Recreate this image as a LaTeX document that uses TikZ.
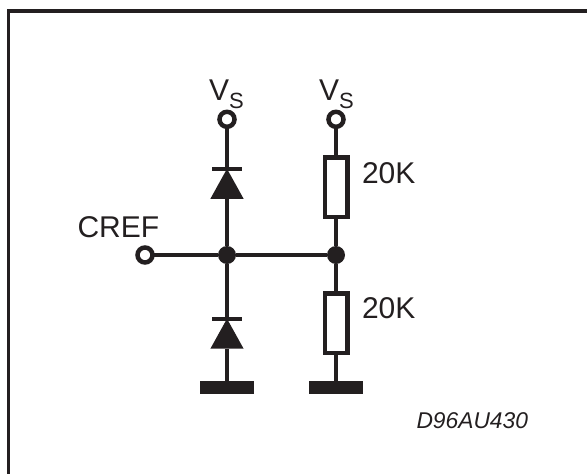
\documentclass[tikz,border=0pt]{standalone}
\usepackage{fontspec}
\setmainfont{Liberation Sans}
\usetikzlibrary{positioning,shapes.geometric}
\definecolor{ink}{HTML}{231F20}

\begin{document}
\begin{tikzpicture}[x=1pt,y=-1pt,on grid,color=ink,line width=4.5pt,outer sep=0pt]

  \useasboundingbox (0,0) rectangle (587,474);

  \tikzstyle{terminal} = [circle,draw,fill=white,inner sep=0pt,minimum size=15pt]
  \tikzstyle{junction} = [circle,fill,inner sep=0pt,minimum size=18pt]
  \tikzstyle{resistor} = [rectangle,draw,fill=white,inner sep=0pt,minimum width=22.5pt,minimum height=59.5pt]
  \tikzstyle{diodebar} = [rectangle,fill,inner sep=0pt,minimum width=30pt,minimum height=4pt]
  \tikzstyle{diodetri} = [isosceles triangle,isosceles triangle apex angle=58,shape border rotate=90,
                          fill,inner sep=0pt,minimum height=30pt]
  \tikzstyle{groundbar} = [rectangle,fill,inner sep=0pt,minimum width=54pt,minimum height=13.5pt]
  \tikzstyle{bigtext} = [anchor=base west,inner sep=0pt,font=\fontsize{30}{30}\selectfont]
  \tikzstyle{smalltext} = [font=\fontsize{22.8}{22.8}\selectfont]

  \coordinate (frameBL) at (8.5,474);
  \coordinate (frameTL) at (8.5,10.7);
  \coordinate (frameTR) at (587,10.7);

  \node[terminal]  (VA) at (227,119.3)         {};
  \node[terminal]  (VB) [right=109pt of VA]    {};
  \node[diodebar]  (BA) [below=49.5pt of VA]   {};
  \node[diodetri]  (TA) [below=0pt of BA,anchor=apex] {};
  \node[resistor]  (RA) [below=67.7pt of VB]   {};
  \node[junction]  (JA) [below=135.7pt of VA]  {};
  \node[junction]  (JB) [right=109pt of JA]    {};
  \node[terminal]  (CR) [left=82pt of JA]      {};
  \node[diodebar]  (BB) [below=63.7pt of JA]   {};
  \node[diodetri]  (TB) [below=0pt of BB,anchor=apex] {};
  \node[resistor]  (RB) [below=68pt of JB]     {};
  \node[groundbar] (GA) [below=132.3pt of JA]  {};
  \node[groundbar] (GB) [right=109pt of GA]    {};

  \node[bigtext] (VAlabel) at (209,100.7) {V\raisebox{-8pt}{\fontsize{22}{22}\selectfont S}};
  \node[bigtext] (VBlabel) at (319,100.7) {V\raisebox{-8pt}{\fontsize{22}{22}\selectfont S}};
  \node[bigtext] (CRlabel) at (77.5,237) {CREF};
  \node[bigtext] (RAlabel) at (362,183) {20K};
  \node[bigtext] (RBlabel) at (362,318.5) {20K};
  \node[bigtext,smalltext] (code) at (416.5,428) {\itshape D96AU430};

  \draw[line width=3.7pt] (frameBL) -- (frameTL) -- (frameTR);
  \draw (VA) -- (BA)
        (TA) -- (JA)
        (JA) -- (BB)
        (TB) -- (GA)
        (VB) -- (RA)
        (RA) -- (JB)
        (JB) -- (RB)
        (RB) -- (GB)
        (CR) -- (JA)
        (JA) -- (JB);

\end{tikzpicture}
\end{document}
